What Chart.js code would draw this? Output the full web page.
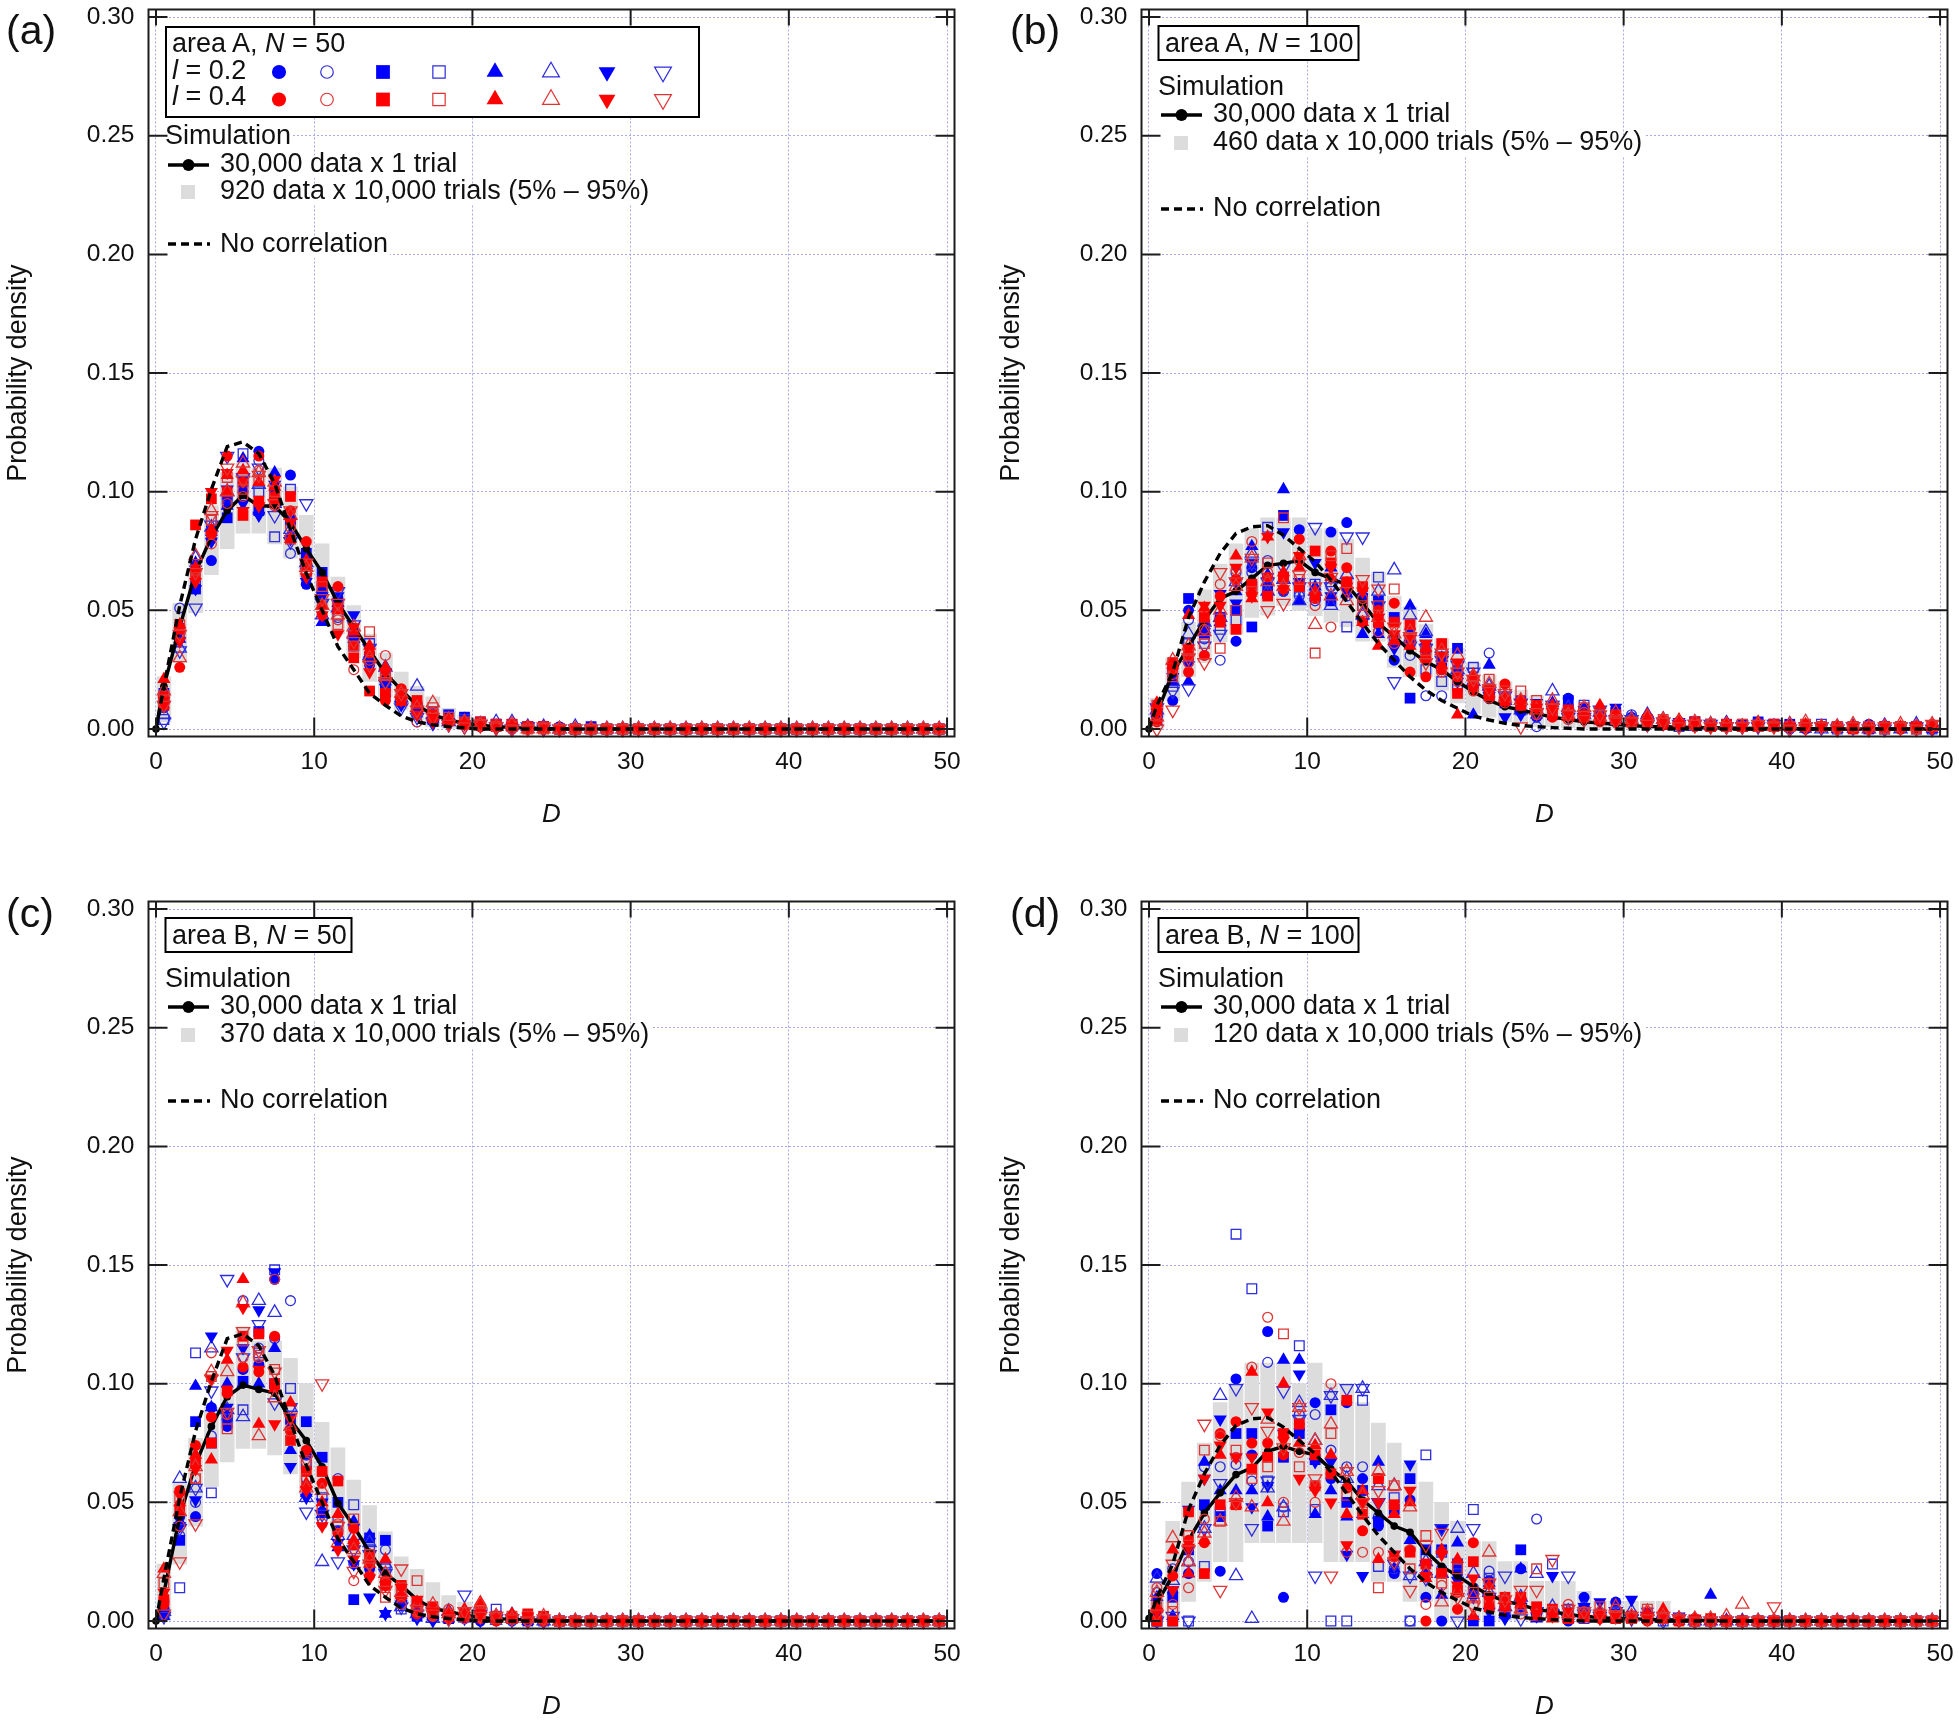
<!DOCTYPE html>
<html>
<head>
<meta charset="utf-8">
<title>Probability density of D</title>
<script src="https://cdn.jsdelivr.net/npm/chart.js@4/dist/chart.umd.js"></script>
<style>
  html, body { margin: 0; padding: 0; background: #fff; }
  #page { position: relative; width: 1959px; height: 1722px; overflow: hidden; }
  #page canvas { position: absolute; }
  .label { position: absolute; white-space: nowrap; color: #111; font-family: "Liberation Sans", Arial, sans-serif; }
</style>
</head>
<body>
<div id="page"></div>
<script>
// bin centres and axis ticks
const binD = [.5,1.5,2.5,3.5,4.5,5.5,6.5,7.5,8.5,9.5, 10.5,11.5,12.5,13.5,14.5,15.5,16.5,17.5,18.5,19.5, 20.5,21.5,22.5,23.5,24.5,25.5,26.5,27.5,28.5,29.5, 30.5,31.5,32.5,33.5,34.5,35.5,36.5,37.5,38.5,39.5, 40.5,41.5,42.5,43.5,44.5,45.5,46.5,47.5,48.5,49.5];
const curveD = [0,.5,1.5,2.5,3.5,4.5,5.5,6.5,7.5,8.5,9.5, 10.5,11.5,12.5,13.5,14.5,15.5,16.5,17.5,18.5,19.5, 20.5,21.5,22.5,23.5,24.5,25.5,26.5,27.5,28.5,29.5, 30.5,31.5,32.5,33.5,34.5,35.5,36.5,37.5,38.5,39.5, 40.5,41.5,42.5,43.5,44.5,45.5,46.5,47.5,48.5,49.5];
const xTicks = [0, 10, 20, 30, 40, 50];
const yTicks = [0, 0.05, 0.10, 0.15, 0.20, 0.25, 0.30];

// dashed "no correlation" curves
const noCorr50 = [0,.018,.052,.080,.101,.119,.121,.116,.1035,.084,.0656, .050,.0347,.025,.015,.010,.0055,.003,.0018,.001,.0005, 0,0,0,0,0,0,0,0,0,0, 0,0,0,0,0,0,0,0,0,0, 0,0,0,0,0,0,0,0,0,0];
const noCorr100 = [0,.010,.024,.047,.062,.074,.0824,.0852,.0857,.0817,.076, .0705,.0628,.0537,.0445,.036,.029,.022,.0164,.012,.0087, .0055,.0038,.0024,.0015,.001,.0006,.0003,0,0,0, 0,0,0,0,0,0,0,0,0,0, 0,0,0,0,0,0,0,0,0,0];

// solid "30,000 data x 1 trial" curves
const simA = [0,.018,.043,.066,.081,.092,.0985,.094,.094,.087,.076, .066,.053,.043,.033,.0235,.0165,.010,.006,.0038,.0024, .0016,.001,.0006,.0004,.0002,.0001,0,0,0,0, 0,0,0,0,0,0,0,0,0,0, 0,0,0,0,0,0,0,0,0,0];
const simB = [0,.0066,.0235,.0347,.046,.055,.058,.0635,.069,.0698,.071, .066,.0635,.0607,.053,.0445,.039,.033,.0284,.025,.020, .0157,.012,.0094,.008,.0065,.005,.004,.003,.0025,.002, .0015,.001,.001,.0008,.0006,.0005,.0004,.0003,.0002,.0002, .0001,.0001,0,0,0,0,0,0,0,0];
const simC = [0,.012,.044,.066,.082,.0945,.0994,.0976,.096,.0847,.076, .065,.0496,.040,.029,.020,.015,.009,.0053,.004,.0025, .0015,.001,.0007,.0005,.0003,.0002,0,0,0,0, 0,0,0,0,0,0,0,0,0,0, 0,0,0,0,0,0,0,0,0,0];
const simD = [.001,.0076,.019,.034,.0455,.054,.0617,.0645,.0715,.0736,.0715, .070,.064,.059,.051,.0455,.040,.0374,.0294,.023,.019, .0146,.011,.0083,.0069,.0048,.004,.0027,.002,.0015,.001, .001,.0007,.0005,.0004,.0003,.0002,.0001,0,0,0, 0,0,0,0,0,0,0,0,0,0];

// grey 5% - 95% ranges
const bandALow = [.003,.028,.049,.065,.076,.0825,.0825,.078,.072,.064, .050,.040,.030,.020,.0136,.008,.004,.001,0,0, 0,0,0,0];
const bandAHigh = [.022,.053,.070,.094,.108,.112,.110,.110,.102,.090, .078,.064,.052,.040,.032,.024,.018,.0136,.0087,.006, .0045,.003,.002,.0015];
const bandBLow = [0,.012,.022,.028,.0368,.040,.047,.048,.052,.050, .0478,.045,.043,.037,.037,.026,.022,.022,.0164,.011, .0066,.005,.003,.0024,.001,.001,.0005,0,0,0, 0,0,0,0,0,0];
const bandBHigh = [.013,.030,.045,.0586,.0695,.078,.0845,.089,.089,.089, .0845,.0845,.080,.072,.066,.056,.0515,.044,.038,.034, .0277,.0227,.020,.0164,.014,.012,.009,.008,.006,.005, .004,.003,.0025,.002,.0015,.001];
const bandCLow = [0,.024,.040,.0566,.067,.0727,.0727,.070,.062,.0538, .043,.0355,.027,.0194,.013,.0074,.003,.001,0,0, 0,0,0,0,0,0];
const bandCHigh = [.024,.058,.077,.090,.1085,.124,.118,.118,.1107,.100, .0837,.073,.0594,.0486,.0376,.027,.0218,.0162,.0107,.008, .006,.004,.003,.002,.0015,.001];
const bandDLow = [0,0,.0083,.0167,.025,.025,.033,.033,.033,.033, .033,.025,.025,.025,.0167,.0167,.0083,.0083,0,0, 0,0,0,0,0,0,0,0,0,0, 0,0,0];
const bandDHigh = [.0167,.042,.0585,.075,.092,.100,.1087,.1087,.1087,.100, .1087,.100,.100,.092,.0834,.075,.0666,.0585,.050,.042, .0335,.0335,.025,.025,.0167,.0167,.0167,.0125,.0083,.0083, .0083,.0083,.0083];

// panel (a) markers
const aBlueCircle = [.009,.043,.068,.071,.097,.100,.117,.101,.107,.061, .058,.055,.036,.027,.021,.016,.008,.005,.004,.005, .002,.001,.001,.001,0,.001,0,0,0,0, 0,0,0,0,0,0,0,0,0,0, 0,0,0,0,0,0,0,0,0,0];
const aBlueCircleOpen = [.012,.051,.062,.080,.094,.097,.113,.098,.074,.072, .054,.047,.041,.032,.014,.011,.003,.006,.003,.002, .001,.001,0,0,.001,0,0,0,0,0, 0,0,0,0,0,0,0,0,0,0, 0,0,0,0,0,0,0,0,0,0];
const aBlueSquare = [.015,.042,.059,.084,.089,.104,.092,.099,.088,.074, .066,.052,.039,.030,.018,.013,.009,.004,.006,.005, .003,.002,.002,.001,.001,0,0,.001,0,0, 0,0,0,0,0,0,0,0,0,0, 0,0,0,0,0,0,0,0,0,0];
const aBlueSquareOpen = [.004,.040,.066,.088,.097,.116,.100,.081,.101,.066, .060,.048,.035,.036,.022,.012,.007,.007,.005,.004, .002,.002,.001,.001,.001,0,0,0,0,0, 0,0,0,0,0,0,0,0,0,0, 0,0,0,0,0,0,0,0,0,0];
const aBlueUp = [.013,.038,.070,.083,.094,.114,.092,.108,.082,.069, .045,.053,.038,.030,.020,.015,.011,.004,.004,.002, .002,.001,.001,0,.001,0,0,0,0,0, 0,0,0,0,0,0,0,0,0,0, 0,0,0,0,0,0,0,0,0,0];
const aBlueUpOpen = [.006,.034,.072,.085,.100,.108,.103,.095,.084,.070, .048,.051,.040,.031,.026,.013,.018,.006,.003,.003, .002,.003,.003,.001,.001,0,.001,0,0,0, 0,0,0,0,0,0,0,0,0,0, 0,0,0,0,0,0,0,0,0,0];
const aBlueDown = [.010,.037,.059,.079,.101,.095,.090,.103,.080,.062, .056,.056,.048,.029,.024,.010,.006,.002,.003,.002, .002,0,0,.001,0,0,0,0,0,0, 0,0,0,0,0,0,0,0,0,0, 0,0,0,0,0,0,0,0,0,0];
const aBlueDownOpen = [.003,.033,.051,.086,.115,.106,.110,.090,.079,.095, .053,.058,.044,.034,.019,.009,.005,.003,.002,.001, .002,.001,0,.001,0,0,0,0,0,0, 0,0,0,0,0,0,0,0,0,0, 0,0,0,0,0,0,0,0,0,0];
const aRedCircle = [.014,.026,.065,.082,.115,.104,.115,.098,.092,.079, .048,.060,.035,.032,.012,.017,.011,.004,.003,.003, .001,.002,.001,0,.001,0,0,0,0,0, 0,0,0,0,0,0,0,0,0,0, 0,0,0,0,0,0,0,0,0,0];
const aRedCircleOpen = [.012,.040,.064,.078,.095,.098,.109,.094,.085,.066, .052,.046,.025,.029,.031,.014,.003,.007,.004,.002, .002,.001,0,.001,0,0,0,0,0,0, 0,0,0,0,0,0,0,0,0,0, 0,0,0,0,0,0,0,0,0,0];
const aRedSquare = [.010,.042,.086,.097,.100,.090,.096,.097,.098,.069, .062,.051,.030,.016,.015,.012,.012,.006,.004,.002, .003,.002,.002,.001,.001,0,0,0,0,0, 0,0,0,0,0,0,0,0,0,0, 0,0,0,0,0,0,0,0,0,0];
const aRedSquareOpen = [.014,.044,.067,.088,.106,.101,.105,.100,.080,.067, .060,.044,.035,.041,.023,.014,.008,.009,.005,.003, .002,.001,.001,0,0,0,0,0,0,0, 0,0,0,0,0,0,0,0,0,0, 0,0,0,0,0,0,0,0,0,0];
const aRedUp = [.021,.044,.068,.084,.107,.109,.104,.102,.080,.071, .052,.050,.041,.035,.026,.014,.010,.005,.003,.003, .001,.001,.001,.001,0,0,0,0,0,0, 0,0,0,0,0,0,0,0,0,0, 0,0,0,0,0,0,0,0,0,0];
const aRedUpOpen = [.016,.030,.073,.092,.100,.112,.108,.104,.090,.068, .052,.048,.043,.030,.022,.015,.009,.011,.004,.003, .002,.001,.002,0,0,0,0,0,0,0, 0,0,0,0,0,0,0,0,0,0, 0,0,0,0,0,0,0,0,0,0];
const aRedDown = [.012,.037,.062,.100,.108,.092,.094,.105,.087,.064, .048,.040,.043,.024,.024,.012,.006,.003,.002,.002, .001,0,.001,0,0,0,0,0,0,0, 0,0,0,0,0,0,0,0,0,0, 0,0,0,0,0,0,0,0,0,0];
const aRedDownOpen = [.010,.040,.066,.090,.110,.105,.107,.095,.092,.070, .055,.053,.037,.027,.020,.015,.008,.005,.002,.001, .002,.001,0,0,.001,0,0,0,0,0, 0,0,0,0,0,0,0,0,0,0, 0,0,0,0,0,0,0,0,0,0];

// panel (b) markers
const bBlueCircle = [.006,.012,.050,.044,.047,.037,.068,.060,.058,.084, .055,.083,.087,.056,.044,.029,.042,.033,.025,.024, .018,.013,.012,.008,.005,.007,.013,.009,.006,.004, .005,.005,.003,.003,.002,.002,.001,.002,.001,.002, 0,.001,.001,.001,0,.002,0,.001,0,0];
const bBlueCircleOpen = [.010,.022,.046,.038,.029,.066,.066,.071,.058,.056, .054,.060,.056,.048,.041,.036,.031,.014,.014,.025, .018,.032,.012,.010,.001,.007,.006,.007,.004,.005, .006,.004,.003,.003,.001,.002,.002,.001,.001,.001, .001,0,.001,0,.001,0,.001,0,0,.001];
const bBlueSquare = [.005,.024,.055,.040,.047,.050,.043,.057,.090,.061, .056,.054,.061,.055,.054,.047,.013,.034,.028,.034, .019,.016,.011,.012,.009,.006,.012,.007,.005,.007, .004,.003,.003,.002,.003,.002,.002,.002,.003,.002, .002,.001,.001,.001,.001,0,.001,.001,0,.001];
const bBlueSquareOpen = [.007,.018,.036,.044,.042,.046,.060,.085,.064,.058, .061,.062,.043,.052,.064,.038,.037,.025,.020,.018, .026,.014,.013,.008,.010,.007,.008,.010,.004,.006, .004,.003,.002,.001,.003,.002,.001,.001,.002,.002, .001,.001,.002,0,.001,.001,0,.001,.001,0];
const bBlueUp = [.003,.020,.020,.042,.045,.058,.077,.065,.101,.054, .060,.068,.057,.040,.040,.037,.052,.040,.030,.024, .006,.027,.014,.009,.006,.011,.008,.007,.008,.003, .005,.004,.003,.002,.002,.001,.003,.001,.002,.001, .001,0,.001,0,0,.001,.002,0,.001,0];
const bBlueUpOpen = [.008,.020,.040,.045,.047,.062,.074,.058,.063,.054, .058,.052,.065,.048,.058,.067,.048,.041,.034,.025, .020,.018,.012,.008,.008,.016,.009,.006,.007,.004, .003,.006,.004,.003,.001,.002,.002,.001,.001,.001, .002,.001,0,.001,.001,0,.001,0,.002,.001];
const bBlueDown = [.004,.022,.027,.041,.057,.053,.070,.064,.083,.062, .070,.056,.058,.045,.047,.034,.036,.036,.030,.020, .021,.014,.005,.006,.011,.008,.006,.008,.006,.009, .003,.004,.002,.003,.002,.001,.001,.002,.001,.001, .001,.001,0,.001,0,.001,0,.001,0,0];
const bBlueDownOpen = [.009,.016,.017,.035,.040,.062,.070,.062,.068,.060, .085,.060,.081,.081,.052,.020,.035,.034,.029,.027, .024,.016,.014,.011,.007,.010,.005,.005,.008,.004, .004,.002,.003,.002,.002,.002,.001,.001,.001,.002, 0,.001,.001,0,.001,0,0,.001,.001,0];
const bRedCircle = [.003,.025,.024,.031,.056,.063,.057,.064,.059,.080, .055,.075,.068,.045,.050,.053,.024,.022,.025,.022, .020,.017,.019,.012,.009,.005,.008,.006,.005,.006, .003,.003,.004,.002,.002,.001,.001,.001,.001,.001, .001,.002,.001,.001,.001,0,.001,0,.001,.001];
const bRedCircleOpen = [.006,.023,.028,.042,.061,.067,.079,.066,.063,.071, .052,.043,.062,.055,.041,.036,.042,.030,.024,.020, .016,.013,.011,.010,.006,.009,.004,.007,.003,.005, .002,.004,.002,.003,.001,.002,.001,.001,.002,.001, .001,.001,.001,0,.001,.001,0,.001,0,.002];
const bRedSquare = [.008,.028,.031,.047,.045,.042,.061,.056,.064,.060, .075,.070,.062,.060,.045,.045,.044,.030,.036,.015, .020,.014,.012,.010,.010,.007,.008,.005,.004,.006, .003,.004,.002,.002,.003,.001,.002,.001,.001,.002, .001,.001,.001,.001,0,.001,.001,.001,.001,.001];
const bRedSquareOpen = [.010,.022,.033,.036,.034,.050,.058,.070,.089,.063, .032,.073,.076,.052,.052,.059,.038,.033,.030,.026, .018,.021,.016,.016,.012,.008,.006,.009,.006,.004, .003,.003,.004,.002,.002,.002,.001,.002,.001,.001, .001,.002,.001,.001,.001,.001,0,.001,0,.001];
const bRedUp = [.011,.027,.048,.051,.047,.073,.055,.081,.066,.068, .058,.064,.061,.045,.035,.037,.035,.034,.027,.006, .023,.015,.014,.012,.009,.010,.005,.006,.010,.004, .003,.006,.002,.004,.002,.001,.002,.001,.003,.001, .001,.002,.001,.001,.001,0,.001,.001,.001,.001];
const bRedUpOpen = [.005,.029,.035,.041,.050,.060,.072,.062,.060,.073, .044,.056,.054,.049,.047,.040,.041,.047,.033,.031, .022,.019,.013,.012,.008,.012,.006,.009,.005,.007, .004,.005,.004,.003,.003,.002,.002,.001,.002,.001, .002,.003,.001,.001,.002,.001,.001,.002,.001,.002];
const bRedDown = [.007,.026,.034,.052,.052,.068,.056,.081,.059,.073, .056,.068,.060,.058,.047,.040,.038,.036,.031,.028, .017,.015,.012,.011,.009,.007,.006,.005,.004,.003, .003,.002,.002,.002,.001,.001,.001,.001,.001,.001, .001,0,.001,0,.001,0,.001,0,.001,0];
const bRedDownOpen = [0,.008,.030,.028,.066,.062,.072,.050,.053,.065, .060,.064,.058,.063,.059,.043,.039,.028,.032,.024, .021,.017,.015,.001,.007,.009,.006,.004,.006,.003, .003,.002,.003,.001,.002,.001,.001,.001,.002,.001, 0,.001,.001,0,.001,0,.001,.001,0,.002];

// panel (c) markers
const cBlueCircle = [.008,.044,.044,.090,.082,.106,.108,.144,.081,.070, .046,.038,.040,.022,.016,.008,.002,.001,.002,.001, 0,.001,.001,0,0,0,0,0,0,0, 0,0,0,0,0,0,0,0,0,0, 0,0,0,0,0,0,0,0,0,0];
const cBlueCircleOpen = [.005,.036,.050,.078,.085,.135,.115,.119,.135,.060, .043,.060,.024,.027,.030,.010,.005,.003,.003,.003, .002,.001,0,.001,0,0,0,0,0,0, 0,0,0,0,0,0,0,0,0,0, 0,0,0,0,0,0,0,0,0,0];
const cBlueSquare = [.004,.034,.084,.075,.086,.101,.122,.100,.085,.084, .069,.050,.009,.035,.034,.009,.002,.003,.001,.002, .002,.002,.001,0,.001,0,0,0,0,0, 0,0,0,0,0,0,0,0,0,0, 0,0,0,0,0,0,0,0,0,0];
const cBlueSquareOpen = [.003,.014,.113,.054,.085,.089,.113,.148,.098,.066, .052,.042,.049,.030,.022,.005,.007,.003,.002,.003, .002,.005,.001,.001,0,0,0,0,0,0, 0,0,0,0,0,0,0,0,0,0, 0,0,0,0,0,0,0,0,0,0];
const cBlueUp = [.002,.042,.099,.090,.100,.100,.100,.115,.072,.054, .045,.031,.042,.036,.003,.009,.004,.002,.001,.001, .001,0,.003,0,0,0,0,0,0,0, 0,0,0,0,0,0,0,0,0,0, 0,0,0,0,0,0,0,0,0,0];
const cBlueUpOpen = [.004,.060,.056,.115,.089,.086,.135,.130,.090,.052, .025,.036,.036,.033,.024,.006,.003,.001,.004,.002, .001,.002,.001,.001,0,0,0,0,0,0, 0,0,0,0,0,0,0,0,0,0, 0,0,0,0,0,0,0,0,0,0];
const cBlueDown = [.003,.040,.051,.120,.090,.115,.131,.147,.065,.052, .050,.033,.024,.010,.003,.007,.001,0,.001,.001, 0,.001,0,0,0,0,0,0,0,0, 0,0,0,0,0,0,0,0,0,0, 0,0,0,0,0,0,0,0,0,0];
const cBlueDownOpen = [.002,.039,.056,.097,.144,.111,.125,.092,.090,.046, .045,.025,.030,.028,.020,.006,.003,.004,.001,.011, .003,.001,.001,0,0,0,0,0,0,0, 0,0,0,0,0,0,0,0,0,0, 0,0,0,0,0,0,0,0,0,0];
const cRedCircle = [.007,.055,.074,.086,.096,.107,.105,.120,.080,.072, .058,.037,.039,.019,.017,.010,.003,.002,.001,.002, .001,0,.002,.001,0,0,0,0,0,0, 0,0,0,0,0,0,0,0,0,0, 0,0,0,0,0,0,0,0,0,0];
const cRedCircleOpen = [.009,.040,.060,.113,.087,.111,.111,.144,.080,.067, .041,.041,.017,.024,.016,.007,.004,.002,.005,.001, .002,.001,.001,0,.001,0,0,0,0,0, 0,0,0,0,0,0,0,0,0,0, 0,0,0,0,0,0,0,0,0,0];
const cRedSquare = [.009,.047,.067,.075,.097,.120,.121,.100,.076,.063, .063,.059,.032,.027,.015,.015,.008,.006,.002,.003, .004,.002,.001,.003,.002,0,0,0,0,0, 0,0,0,0,0,0,0,0,0,0, 0,0,0,0,0,0,0,0,0,0];
const cRedSquareOpen = [.016,.052,.060,.103,.081,.118,.112,.106,.076,.060, .047,.040,.043,.028,.010,.014,.017,.004,.003,.002, .004,.001,.002,.002,.001,0,0,0,0,0, 0,0,0,0,0,0,0,0,0,0, 0,0,0,0,0,0,0,0,0,0];
const cRedUp = [.022,.050,.070,.068,.110,.144,.083,.098,.092,.058, .050,.045,.034,.024,.026,.011,.008,.005,.004,.005, .008,.001,.003,.002,.001,0,0,0,0,0, 0,0,0,0,0,0,0,0,0,0, 0,0,0,0,0,0,0,0,0,0];
const cRedUpOpen = [.020,.046,.065,.105,.105,.134,.078,.094,.082,.056, .055,.033,.030,.026,.020,.012,.006,.007,.003,.003, .007,.002,.001,.001,.002,0,0,0,0,0, 0,0,0,0,0,0,0,0,0,0, 0,0,0,0,0,0,0,0,0,0];
const cRedDown = [.012,.053,.064,.102,.114,.132,.106,.083,.085,.055, .040,.030,.026,.018,.015,.014,.009,.004,.002,.002, .003,.001,.001,.002,0,0,0,0,0,0, 0,0,0,0,0,0,0,0,0,0, 0,0,0,0,0,0,0,0,0,0];
const cRedDownOpen = [.003,.025,.041,.102,.088,.122,.114,.105,.086,.068, .100,.040,.021,.024,.013,.022,.005,.003,.001,.004, .002,.002,.001,0,.001,0,0,0,0,0, 0,0,0,0,0,0,0,0,0,0, 0,0,0,0,0,0,0,0,0,0];

// panel (d) markers
const dBlueCircle = [.020,.012,.020,.048,.021,.102,.070,.122,.010,.081, .092,.060,.092,.060,.040,.020,.051,.010,0,.020, .012,.017,.006,.022,.004,.002,0,.010,.003,.008, .002,.003,.001,.001,0,.001,0,0,0,0, 0,0,0,0,0,0,0,0,0,0];
const dBlueCircleOpen = [.012,.022,.025,.065,.065,.066,.059,.109,.048,.087, .087,.072,.065,.065,.044,.022,0,.027,.022,.022, .014,.021,.010,.006,.043,.004,.002,.006,.003,.004, .002,.001,.002,0,.001,0,0,0,0,0, 0,0,0,0,0,0,0,0,0,0];
const dBlueSquare = [0,.010,.030,.049,.044,.079,.079,.040,.069,.079, .068,.089,.050,.055,.042,.047,.060,.030,.030,.024, 0,0,.004,.030,.002,.003,.001,.005,.002,.003, .002,.001,.001,.001,0,0,0,0,0,0, 0,0,0,0,0,0,0,0,0,0];
const dBlueSquareOpen = [0,0,0,.023,.046,.163,.140,.059,.046,.116, .047,0,0,.093,.023,.052,0,.070,.029,.024, .047,.018,.003,.006,.002,.024,.005,.001,.003,.002, .001,.001,0,.001,0,0,0,0,0,0, 0,0,0,0,0,0,0,0,0,0];
const dBlueUp = [.010,.002,.020,.067,.055,.055,.055,.044,.110,.110, .045,.055,.044,.045,.067,.022,.034,.021,.011,.033, .011,.016,.003,.022,.001,.004,.002,.005,.002,.003, .002,.001,.002,0,.001,.011,0,0,0,0, 0,0,0,0,0,0,0,0,0,0];
const dBlueUpOpen = [.018,.017,.025,.039,.095,.019,.001,.056,.048,.092, .076,.095,.060,.098,.057,.057,.019,.025,.020,.039, .020,.012,.006,.010,.020,.006,.004,.003,.003,.002, .004,.002,.001,.001,0,0,0,0,0,0, 0,0,0,0,0,0,0,0,0,0];
const dBlueDown = [.003,.013,.047,.060,.085,.069,.048,.057,.079,.104, .067,.067,.028,.019,.042,.028,.066,.024,.039,.017, .010,.004,.001,.006,.002,.019,.001,.006,.008,.002, .009,.004,.001,.002,.001,0,0,0,0,0, 0,0,0,0,0,0,0,0,0,0];
const dBlueDownOpen = [0,.002,0,.039,.058,.098,.039,.059,.097,.085, .019,.095,.098,.098,.050,.024,.019,.018,.039,0, .039,.010,.019,.001,.004,.003,.019,.003,.002,.004, .001,.002,0,.001,0,0,0,0,0,0, 0,0,0,0,0,0,0,0,0,0];
const dRedCircle = [.005,.019,.034,.033,.079,.084,.075,.075,.070,.083, .057,.062,.056,.038,.060,.027,.030,0,.020,.005, .033,.006,.008,.010,.004,.002,.001,.002,.003,.001, .001,0,.001,0,0,0,0,0,0,0, 0,0,0,0,0,0,0,0,0,0];
const dRedCircleOpen = [.014,.007,.014,.043,.078,.069,.107,.128,.050,.071, .050,.100,.029,.029,.029,.027,.030,.007,.015,.012, .007,.016,.009,.003,.005,.002,.007,.004,.001,.005, .002,.004,.001,0,.001,0,0,0,0,0, 0,0,0,0,0,0,0,0,0,0];
const dRedSquare = [0,0,.046,.020,.049,.049,.064,.069,.079,.083, .070,.062,.093,.045,.060,.049,.029,.024,.020,.013, .025,.006,.010,.010,.006,.005,.001,.002,.002,.001, .002,.001,.001,0,0,.001,0,0,0,0, 0,0,0,0,0,0,0,0,0,0];
const dRedSquareOpen = [.008,.004,.036,.072,.042,.072,.060,.065,.121,.065, .057,.079,.053,.046,.014,.057,.022,.036,.016,.022, .012,.010,.006,.005,.022,.004,.002,.003,.006,.002, .001,.005,.001,.001,0,0,0,0,0,0, 0,0,0,0,0,0,0,0,0,0];
const dRedUp = [.005,.030,.020,.034,.070,.049,.105,.050,.100,.075, .074,.070,.045,.055,.026,.045,.050,.018,.030,.026, .002,.015,.006,.007,.002,.001,.001,.001,.003,.002, .001,.003,.005,.001,.001,0,0,0,0,0, 0,0,0,0,0,0,0,0,0,0];
const dRedUpOpen = [.012,.035,.025,.037,.042,.052,.048,.085,.042,.090, .076,.083,.063,.053,.063,.057,.048,.020,.008,.012, .010,.029,.009,.005,.002,.003,.003,.002,.004,.006, .002,.004,.002,.001,.001,.001,.002,.007,0,0, 0,0,0,0,0,0,0,0,0,0];
const dRedDown = [.004,.013,.031,.060,.074,.069,.069,.088,.076,.060, .055,.050,.032,.050,.050,.028,.055,.019,.028,.015, .018,.009,.006,.008,.003,.002,.004,.002,.001,.002, .001,.002,.001,0,.001,0,0,0,0,0, 0,0,0,0,0,0,0,0,0,0];
const dRedDownOpen = [.003,.024,.030,.083,.013,.050,.090,.080,.073,.090, .060,.019,.063,.050,.055,.025,.013,.032,.037,.010, .006,.016,.009,.013,.013,.026,.005,.004,.003,.002, .002,.001,.002,.001,0,0,0,0,0,.006, 0,0,0,0,0,0,0,0,0,0];

const BLUE = "#0000ff", RED = "#ff0000", BLUE_LINE = "#2c2ce0", RED_LINE = "#e03434";
const GREY = "#dcdcdc", INK = "#1c1c1c", GRID = "#a9a9ec";

// shape order is the same for both colours: circle, square, up, down, solid then open
const shapes = [
  { pointStyle: "circle", rotation: 0, filled: 5.5, open: 4.9 },
  { pointStyle: "rect", rotation: 0, filled: 7.6, open: 6.8 },
  { pointStyle: "triangle", rotation: 0, filled: 7.6, open: 7.6 },
  { pointStyle: "triangle", rotation: 180, filled: 7.6, open: 7.6 },
];

const panels = [
  {
    left: 0, top: 0, tagX: 6, tagBase: 44, tag: "(a)", area: "area A", n: 50, trials: "920 data x 10,000 trials (5% – 95%)",
    noCorr: noCorr50, sim: simA, low: bandALow, high: bandAHigh, key: true,
    blue: [aBlueCircle, aBlueCircleOpen, aBlueSquare, aBlueSquareOpen, aBlueUp, aBlueUpOpen, aBlueDown, aBlueDownOpen],
    red: [aRedCircle, aRedCircleOpen, aRedSquare, aRedSquareOpen, aRedUp, aRedUpOpen, aRedDown, aRedDownOpen],
  },
  {
    left: 993, top: 0, tagX: 17, tagBase: 44, tag: "(b)", area: "area A", n: 100, trials: "460 data x 10,000 trials (5% – 95%)",
    noCorr: noCorr100, sim: simB, low: bandBLow, high: bandBHigh, key: false,
    blue: [bBlueCircle, bBlueCircleOpen, bBlueSquare, bBlueSquareOpen, bBlueUp, bBlueUpOpen, bBlueDown, bBlueDownOpen],
    red: [bRedCircle, bRedCircleOpen, bRedSquare, bRedSquareOpen, bRedUp, bRedUpOpen, bRedDown, bRedDownOpen],
  },
  {
    left: 0, top: 892, tagX: 6, tagBase: 35, tag: "(c)", area: "area B", n: 50, trials: "370 data x 10,000 trials (5% – 95%)",
    noCorr: noCorr50, sim: simC, low: bandCLow, high: bandCHigh, key: false,
    blue: [cBlueCircle, cBlueCircleOpen, cBlueSquare, cBlueSquareOpen, cBlueUp, cBlueUpOpen, cBlueDown, cBlueDownOpen],
    red: [cRedCircle, cRedCircleOpen, cRedSquare, cRedSquareOpen, cRedUp, cRedUpOpen, cRedDown, cRedDownOpen],
  },
  {
    left: 993, top: 892, tagX: 17, tagBase: 35, tag: "(d)", area: "area B", n: 100, trials: "120 data x 10,000 trials (5% – 95%)",
    noCorr: noCorr100, sim: simD, low: bandDLow, high: bandDHigh, key: false,
    blue: [dBlueCircle, dBlueCircleOpen, dBlueSquare, dBlueSquareOpen, dBlueUp, dBlueUpOpen, dBlueDown, dBlueDownOpen],
    red: [dRedCircle, dRedCircleOpen, dRedSquare, dRedSquareOpen, dRedUp, dRedUpOpen, dRedDown, dRedDownOpen],
  },
];

const page = document.getElementById("page");
const TEXT_SIZE = 27;

const addText = (x, baseline, html, size = TEXT_SIZE) => {
  const el = document.createElement("div");
  el.className = "label";
  el.style.left = x + "px";
  el.style.top = baseline + 1 - size * 0.8465 + "px";
  el.style.fontSize = size + "px";
  el.style.lineHeight = size + "px";
  el.innerHTML = html;
  page.appendChild(el);
};

const points = (values) => values.map((y, i) => ({ x: binD[i], y }));
const curve = (values) => values.map((y, i) => ({ x: curveD[i], y }));

const markerDatasets = (series, solid, line, firstOrder) =>
  series.map((values, i) => {
    const shape = shapes[Math.floor(i / 2)];
    const isOpen = i % 2 === 1;
    return {
      type: "scatter",
      data: points(values),
      clip: false,
      order: firstOrder - i,
      pointStyle: shape.pointStyle,
      pointRotation: shape.rotation,
      pointRadius: isOpen ? shape.open : shape.filled,
      pointBorderWidth: isOpen ? 1.3 : 0,
      pointBorderColor: isOpen ? line : solid,
      pointBackgroundColor: isOpen ? "rgba(0,0,0,0)" : solid,
    };
  });

const drawMarker = (ctx, i, solid, line, x, y) => {
  const shape = shapes[Math.floor(i / 2)];
  const isOpen = i % 2 === 1;
  ctx.save();
  ctx.fillStyle = isOpen ? "rgba(0,0,0,0)" : solid;
  ctx.strokeStyle = isOpen ? line : solid;
  ctx.lineWidth = 1.2;
  Chart.helpers.drawPoint(ctx, {
    pointStyle: shape.pointStyle,
    rotation: shape.rotation,
    radius: (isOpen ? shape.open : shape.filled) * 1.28,
    borderWidth: isOpen ? 1.2 : 0,
  }, x, y);
  ctx.restore();
};

// everything around the data that Chart.js has no option for
const decorations = (panel, rows) => ({
  id: "decorations",
  beforeDatasetsDraw(chart) {
    const ctx = chart.ctx;
    ctx.save();
    ctx.font = TEXT_SIZE + 'px "Liberation Sans"';
    ctx.fillStyle = "#fff";
    rows.forEach((r) => {
      ctx.fillRect(165, r.base - 15, r.x - 165 + ctx.measureText(r.text).width + 2, 21);
    });
    ctx.restore();
  },
  afterDraw(chart) {
    const ctx = chart.ctx;
    const { left, right, top, bottom } = chart.chartArea;
    const sx = chart.scales.x, sy = chart.scales.y;
    ctx.save();
    ctx.strokeStyle = INK;
    ctx.lineWidth = 2;
    ctx.strokeRect(left, top, right - left, bottom - top);
    ctx.beginPath();
    xTicks.forEach((v) => {
      const x = sx.getPixelForValue(v);
      ctx.moveTo(x, bottom);
      ctx.lineTo(x, bottom - 19);
      ctx.moveTo(x, top);
      ctx.lineTo(x, top + 16);
    });
    yTicks.forEach((v) => {
      const y = sy.getPixelForValue(v);
      ctx.moveTo(left, y);
      ctx.lineTo(left + 19, y);
      ctx.moveTo(right, y);
      ctx.lineTo(right - 19, y);
    });
    ctx.stroke();

    // legend samples
    const g = panel.key
      ? { line: 165, greyTop: 185, dash: 244 }
      : { line: 115, greyTop: 136, dash: 209 };
    ctx.strokeStyle = "#000";
    ctx.lineWidth = 3.4;
    ctx.beginPath();
    ctx.moveTo(168, g.line);
    ctx.lineTo(209, g.line);
    ctx.stroke();
    ctx.fillStyle = "#000";
    ctx.beginPath();
    ctx.arc(188.5, g.line, 6, 0, Math.PI * 2);
    ctx.fill();
    ctx.fillStyle = GREY;
    ctx.fillRect(181, g.greyTop, 14, 14);
    ctx.setLineDash([8, 5]);
    ctx.beginPath();
    ctx.moveTo(168, g.dash);
    ctx.lineTo(210, g.dash);
    ctx.stroke();
    ctx.setLineDash([]);

    // boxed title
    const box = panel.key ? [166, 27, 533, 90] : [165.5, 26, panel.n === 100 ? 200 : 186, 34];
    ctx.fillStyle = "#fff";
    ctx.fillRect(box[0], box[1], box[2], box[3]);
    ctx.strokeStyle = "#000";
    ctx.lineWidth = 2;
    ctx.strokeRect(box[0], box[1], box[2], box[3]);
    if (panel.key) {
      const keyX = [279, 327, 383, 439, 495, 551, 607, 663];
      keyX.forEach((x, i) => {
        drawMarker(ctx, i, BLUE, BLUE_LINE, x, 72);
        drawMarker(ctx, i, RED, RED_LINE, x, 99.5);
      });
    }
    ctx.restore();
  },
});

// the scales may not reserve room for half a tick label, the frame is placed by hand
const noLabelPadding = (s) => {
  s.paddingLeft = s.paddingRight = s.paddingTop = s.paddingBottom = 0;
};

panels.forEach((panel) => {
  const canvas = document.createElement("canvas");
  canvas.width = 966;
  canvas.height = 830;
  canvas.style.left = panel.left + "px";
  canvas.style.top = panel.top + "px";
  canvas.style.width = "966px";
  canvas.style.height = "830px";
  page.appendChild(canvas);

  const b = panel.key
    ? { sim: 144, one: 172, many: 199, none: 252 }
    : { sim: 95, one: 122, many: 150, none: 216 };
  const rows = [
    { base: b.sim, x: 165, text: "Simulation" },
    { base: b.one, x: 220, text: "30,000 data x 1 trial" },
    { base: b.many, x: 220, text: panel.trials },
    { base: b.none, x: 220, text: "No correlation" },
  ];

  new Chart(canvas, {
    type: "scatter",
    data: {
      datasets: [
        { type: "line", data: curve(panel.noCorr), order: 0, borderColor: "#000", borderWidth: 3.4, borderDash: [8, 5], pointRadius: 0, fill: false, clip: false },
        ...markerDatasets(panel.red, RED, RED_LINE, 20),
        { type: "line", data: curve(panel.sim), order: 30, borderColor: "#000", borderWidth: 3.4, pointRadius: 3.8, pointBackgroundColor: "#000", pointBorderWidth: 0, fill: false, clip: false },
        ...markerDatasets(panel.blue, BLUE, BLUE_LINE, 50),
        {
          type: "bar",
          data: panel.low.map((lo, i) => ({ x: binD[i], y: [lo, panel.high[i]] })),
          order: 90,
          backgroundColor: GREY,
          borderWidth: 0,
          barThickness: 14,
          grouped: false,
        },
      ],
    },
    plugins: [decorations(panel, rows)],
    options: {
      responsive: false,
      animation: false,
      events: [],
      layout: { autoPadding: false, padding: { top: 9.5, right: 11.5, left: 0, bottom: 0 } },
      plugins: { legend: { display: false }, tooltip: { enabled: false } },
      scales: {
        x: {
          type: "linear",
          offset: false,
          min: -0.474,
          max: 50.47,
          afterBuildTicks: (s) => { s.ticks = xTicks.map((value) => ({ value })); },
          afterFit: (s) => { s.height = 93.5; noLabelPadding(s); },
          grid: { color: GRID, drawTicks: false, lineWidth: 1, offset: false },
          border: { display: false, dash: [2, 2] },
          ticks: { color: "#111", font: { family: "Liberation Sans", size: 24.5 }, padding: 11, maxRotation: 0, autoSkip: false, callback: (v) => String(v) },
          title: { display: true, text: "D", color: "#111", font: { family: "Liberation Sans", size: 26, style: "italic" }, padding: { top: 0, bottom: 0 } },
        },
        y: {
          min: -0.00316,
          max: 0.3032,
          afterBuildTicks: (s) => { s.ticks = yTicks.map((value) => ({ value })); },
          afterFit: (s) => { s.width = 148.5; noLabelPadding(s); },
          grid: { color: GRID, drawTicks: false, lineWidth: 1 },
          border: { display: false, dash: [2, 2] },
          ticks: { color: "#111", font: { family: "Liberation Sans", size: 24.5 }, padding: 14, autoSkip: false, callback: (v) => v.toFixed(2) },
          title: { display: true, text: "Probability density", color: "#111", font: { family: "Liberation Sans", size: 26.8 }, padding: { top: 3, bottom: 0 } },
        },
      },
    },
  });

  const ox = panel.left, oy = panel.top;
  addText(ox + panel.tagX, oy + panel.tagBase, panel.tag, 41);
  addText(ox + 172, oy + 52, `${panel.area}, <i>N</i> = ${panel.n}`);
  rows.forEach((r) => addText(ox + r.x, oy + r.base, r.text));
  if (panel.key) {
    addText(ox + 172, oy + 79, "<i>l</i> = 0.2");
    addText(ox + 172, oy + 105, "<i>l</i> = 0.4");
  }
});
</script>
</body>
</html>
